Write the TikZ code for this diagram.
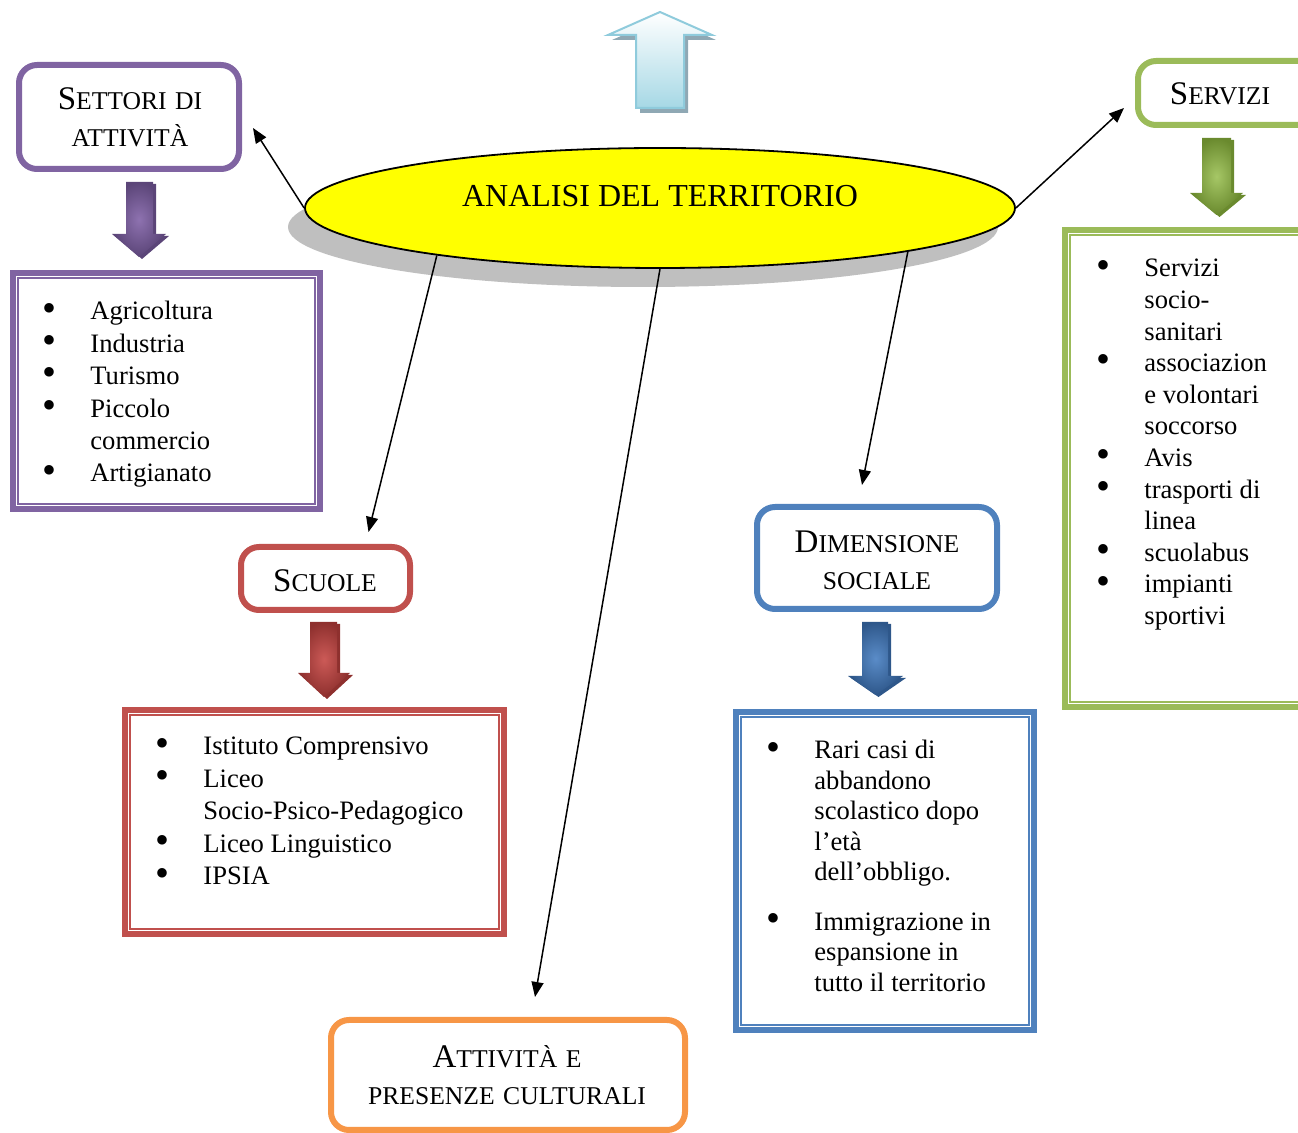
\documentclass[tikz,border=0pt]{standalone}
\usepackage{fontspec}
\setmainfont{Liberation Serif}
\usepackage{graphicx}
\usepackage{array}
\usetikzlibrary{shapes.geometric,arrows.meta,fit}

\definecolor{vio}{HTML}{8064A2}\definecolor{viodk}{HTML}{5B4578}\definecolor{violt}{HTML}{8E72B0}
\definecolor{ros}{HTML}{C0504D}\definecolor{rosdk}{HTML}{8E302E}\definecolor{roslt}{HTML}{CC5A57}
\definecolor{blu}{HTML}{4F81BD}\definecolor{bludk}{HTML}{2E578A}\definecolor{blult}{HTML}{5A8CC8}
\definecolor{grn}{HTML}{9BBB59}\definecolor{grndk}{HTML}{6A8A2E}\definecolor{grnlt}{HTML}{A6C766}
\definecolor{org}{HTML}{F79646}
\definecolor{sky}{HTML}{8FCBDC}\definecolor{skyfill}{HTML}{A6D8E5}\definecolor{skyshade}{HTML}{8FA8B4}
\definecolor{shadowgray}{HTML}{BFBFBF}
\definecolor{ovalfill}{HTML}{FFFF00}

% big initial and small-cap body of the box titles
\newcommand\capA[1]{{\fontsize{16.5}{18.5}\selectfont #1}}
% list bullet, centred on the start of its column
\newcommand\bglyph{\raisebox{-0.6pt}{\scalebox{1.5}{\textbullet}}}
\newcommand\blt{\makebox[20.5pt][l]{\makebox[0pt][c]{\bglyph}}}

% downward block arrow: shaft left, shaft right, top, head y, head left, head right, tip y, colour stem
\newcommand\blockdown[8]{%
  \fill[#8dk,shift={(3,2)}] (#1,#3) -- (#2,#3) -- (#2,#4) -- (#6,#4) -- ({(#5+#6)/2},#7) -- (#5,#4) -- (#1,#4) -- cycle;
  \shade[inner color=#8lt,outer color=#8dk] (#1,#3) -- (#2,#3) -- (#2,#4) -- (#6,#4) -- ({(#5+#6)/2},#7) -- (#5,#4) -- (#1,#4) -- cycle;
}

\tikzset{
  hdrbox/.style={draw=#1, line width=3pt, rounded corners=9pt, fill=white, inner sep=0pt},
  listframe/.style={draw=#1, line width=3pt, inner sep=0pt},
  hdrtext/.style={font=\fontsize{12.8}{18.5}\selectfont, align=center, text width=125pt, inner sep=0pt, anchor=base},
  listtext/.style={inner sep=0pt, anchor=base west},
  link/.style={line width=0.75pt, -{Triangle[length=7.5pt,width=6pt]}}
}

% inner thin rule of a double frame
\newcommand\innerrule[2]{\draw[#2, line width=1pt] ([shift={(8,8)}]#1.north west) rectangle ([shift={(-8,-8)}]#1.south east);}

\begin{document}
\begin{tikzpicture}[x=0.5pt,y=-0.5pt]
\useasboundingbox (0,0) rectangle (1298,1133);

% upward arrow at the top
\fill[skyshade,shift={(4,5)}] (636,108) -- (636,35) -- (608,35) -- (660,12) -- (712,35) -- (684,35) -- (684,108) -- cycle;
\shade[top color=white,bottom color=skyfill,draw=sky,line width=1pt] (636,108) -- (636,35) -- (608,35) -- (660,12) -- (712,35) -- (684,35) -- (684,108) -- cycle;

% central ellipse with its shadow
\fill[shadowgray] (643,227) ellipse (177.5pt and 30pt);
\node[ellipse, draw=black, line width=0.9pt, fill=ovalfill, minimum width=355pt, minimum height=60pt, inner sep=0pt] (main) at (660,208) {};
\node[font=\fontsize{16}{18}\selectfont, anchor=base, inner sep=0pt] (title) at (660,207) {ANALISI DEL TERRITORIO};

% title boxes
\node[hdrbox=vio, fit={(19,65) (239,169)}] (sbox) {};
\node[hdrtext] (stext) at (130,110) {\capA{S}ETTORI DI\\ATTIVITÀ};

\node[hdrbox=grn, fit={(1138,61) (1320,125)}] (vbox) {};
\node[hdrtext] (vtext) at (1220,105) {\capA{S}ERVIZI};

\node[hdrbox=ros, fit={(241,547) (410,610)}] (cbox) {};
\node[hdrtext] (ctext) at (325,592) {\capA{S}CUOLE};

\node[hdrbox=blu, fit={(757,507) (997,609)}] (dbox) {};
\node[hdrtext] (dtext) at (877,553) {\capA{D}IMENSIONE\\SOCIALE};

\node[hdrbox=org, fit={(331,1020) (685,1130)}] (obox) {};
\node[hdrtext, text width=170pt] (otext) at (507,1068) {\capA{A}TTIVITÀ E\\PRESENZE CULTURALI};

% connectors from the ellipse
\draw[link] (main.west) -- ([shift={(11,11)}]sbox.east);
\draw[link] (main.east) -- ([shift={(-11,15)}]vbox.west);
\draw[link] (main.192.6) -- ([shift={(43,-12)}]cbox.north);
\draw[link] (main.south) -- ([shift={(27,-20)}]obox.north);
\draw[link] (main.350) -- ([shift={(-15,-19)}]dbox.north);

% block arrows under the titles
\blockdown{126}{153}{182}{234}{112}{166}{257}{vio}
\blockdown{1202}{1231}{138}{193}{1190}{1243}{215}{grn}
\blockdown{310}{337}{622}{673}{298}{350}{697}{ros}
\blockdown{862}{888}{622}{676}{848}{903}{695}{blu}

% list frames
\node[listframe=vio, fit={(13,273) (320,509)}] (pbox) {};
\innerrule{pbox}{vio}
\node[listframe=ros, fit={(125,710) (504,934)}] (rbox) {};
\innerrule{rbox}{ros}
\node[listframe=blu, fit={(736,712) (1034,1030)}] (bbox) {};
\innerrule{bbox}{blu}
\node[listframe=grn, fit={(1065,230) (1304,707)}] (gbox) {};
\innerrule{gbox}{grn}

% list contents
\node[listtext, font=\fontsize{13.3}{16.2}\selectfont] (plist) at (49,320) {%
\begin{tabular}[t]{@{}l@{}l@{}}
\blt & Agricoltura\\
\blt & Industria\\
\blt & Turismo\\
\blt & Piccolo\\
 & commercio\\
\blt & Artigianato
\end{tabular}};

\node[listtext, font=\fontsize{13.3}{16.25}\selectfont] (rlist) at (162,755) {%
\begin{tabular}[t]{@{}l@{}l@{}}
\blt & Istituto Comprensivo\\
\blt & Liceo\\
 & Socio-Psico-Pedagogico\\
\blt & Liceo Linguistico\\
\blt & IPSIA
\end{tabular}};

\node[listtext, font=\fontsize{13.3}{15.2}\selectfont] (blist) at (773,759) {%
\begin{tabular}[t]{@{}l@{}l@{}}
\blt & Rari casi di\\
 & abbandono\\
 & scolastico dopo\\
 & l’età\\
 & dell’obbligo.\\[9.8pt]
\blt & Immigrazione in\\
 & espansione in\\
 & tutto il territorio
\end{tabular}};

\node[listtext, font=\fontsize{13.3}{15.8}\selectfont] (glist) at (1103,277) {%
\begin{tabular}[t]{@{}l@{}l@{}}
\blt & Servizi\\
 & socio-\\
 & sanitari\\
\blt & associazion\\
 & e volontari\\
 & soccorso\\
\blt & Avis\\
\blt & trasporti di\\
 & linea\\
\blt & scuolabus\\
\blt & impianti\\
 & sportivi
\end{tabular}};

\end{tikzpicture}
\end{document}
